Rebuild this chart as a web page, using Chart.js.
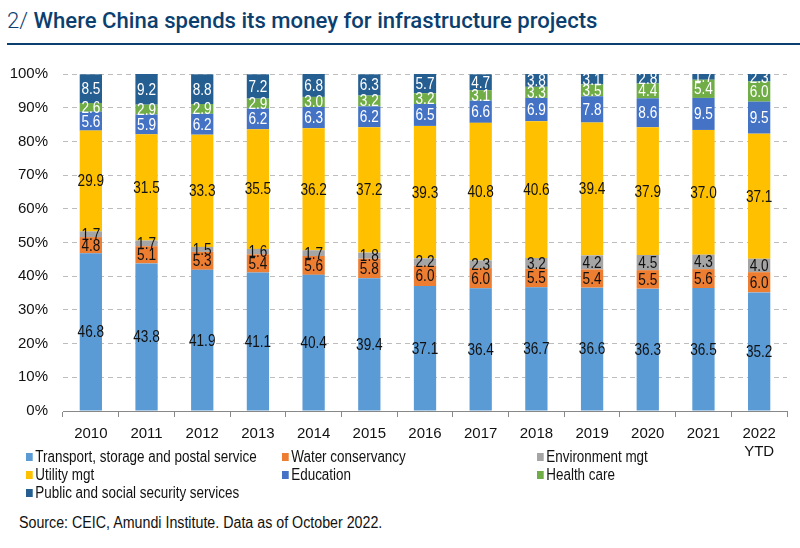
<!DOCTYPE html>
<html>
<head>
<meta charset="utf-8">
<script src="https://cdn.jsdelivr.net/npm/chart.js@4"></script>
<style>
  body { margin: 0; background: #fff; }
  #page { position: relative; width: 800px; height: 548px; overflow: hidden;
          font-family: "Liberation Sans", Arial, sans-serif; color: #111; }
  #title { position: absolute; left: 7px; top: 8px; font-family: Roboto, "Liberation Sans", sans-serif;
           font-size: 22px; font-weight: 500; color: #0b3f70; white-space: nowrap; transform-origin: 0 0; }
  #title span { font-weight: 300; }
  #rule { position: absolute; left: 7px; top: 43px; width: 793px; height: 2px; background: #0b3f70; }
  #wrap { position: absolute; left: 0; top: 50px; }
  .leg { position: absolute; font-size: 16px; line-height: 18px; white-space: nowrap;
         transform: scaleX(0.84); transform-origin: 0 50%; }
  .leg i { display: inline-block; width: 8px; height: 8px; margin-right: 3px; vertical-align: 1px; }
  #source { position: absolute; left: 19px; top: 514px; font-size: 16px; white-space: nowrap;
            transform: scaleX(0.89); transform-origin: 0 50%; }
</style>
</head>
<body>
<div id="page">
  <div id="title"><span>2/</span> Where China spends its money for infrastructure projects</div>
  <div id="rule"></div>
  <div id="wrap"><canvas id="myChart" width="800" height="410"></canvas></div>
  <div id="legend"></div>
  <div id="source">Source: CEIC, Amundi Institute. Data as of October 2022.</div>
</div>
<script>
"use strict";

/* Data */
const years = ['2010', '2011', '2012', '2013', '2014', '2015', '2016', '2017', '2018', '2019', '2020', '2021', ['2022', 'YTD']];
const yTicks = [0, 10, 20, 30, 40, 50, 60, 70, 80, 90, 100];
const transport = [46.8, 43.8, 41.9, 41.1, 40.4, 39.4, 37.1, 36.4, 36.7, 36.6, 36.3, 36.5, 35.2];
const water = [4.8, 5.1, 5.3, 5.4, 5.6, 5.8, 6.0, 6.0, 5.5, 5.4, 5.5, 5.6, 6.0];
const environment = [1.7, 1.7, 1.5, 1.6, 1.7, 1.8, 2.2, 2.3, 3.2, 4.2, 4.5, 4.3, 4.0];
const utility = [29.9, 31.5, 33.3, 35.5, 36.2, 37.2, 39.3, 40.8, 40.6, 39.4, 37.9, 37.0, 37.1];
const education = [5.6, 5.9, 6.2, 6.2, 6.3, 6.2, 6.5, 6.6, 6.9, 7.8, 8.6, 9.5, 9.5];
const healthCare = [2.6, 2.9, 2.9, 2.9, 3.0, 3.2, 3.2, 3.1, 3.3, 3.5, 4.4, 5.4, 6.0];
const publicServices = [8.5, 9.2, 8.8, 7.2, 6.8, 6.3, 5.7, 4.7, 3.8, 3.1, 2.8, 1.7, 2.3];

const FONT = '"Liberation Sans", Arial, sans-serif';

// series: name, values, bar colour, label colour
const series = [
    ['Transport, storage and postal service', transport, '#5b9bd5', '#111'],
    ['Water conservancy', water, '#ed7d31', '#111'],
    ['Environment mgt', environment, '#a5a5a5', '#111'],
    ['Utility mgt', utility, '#ffc000', '#111'],
    ['Education', education, '#4472c4', '#fff'],
    ['Health care', healthCare, '#70ad47', '#fff'],
    ['Public and social security services', publicServices, '#255e91', '#fff']
];

/* Title: squeeze to the reference width */
const title = document.getElementById('title');
title.style.transform = 'scaleX(' + (590 / title.offsetWidth) + ')';

/* Legend (3 columns) */
const legendCols = [26, 282, 537];
const legendRows = [448, 466, 484];
const legendBox = document.getElementById('legend');
series.forEach(function (s, i) {
    const d = document.createElement('div');
    d.className = 'leg';
    d.style.left = legendCols[i % 3] + 'px';
    d.style.top = legendRows[Math.floor(i / 3)] + 'px';
    d.innerHTML = '<i style="background:' + s[2] + '"></i>' + s[0];
    legendBox.appendChild(d);
});

/* Value labels in the middle of each segment */
const segmentLabels = {
    id: 'segmentLabels',
    afterDatasetsDraw: function (chart) {
        const ctx = chart.ctx;
        chart.data.datasets.forEach(function (ds, i) {
            chart.getDatasetMeta(i).data.forEach(function (bar, j) {
                ctx.save();
                ctx.font = '16px ' + FONT;
                ctx.textAlign = 'center';
                ctx.textBaseline = 'middle';
                ctx.fillStyle = series[i][3];
                ctx.translate(bar.x, (bar.y + bar.base) / 2 + 1);
                ctx.scale(0.85, 1);
                ctx.fillText(ds.data[j].toFixed(1), 0, 0);
                ctx.restore();
            });
        });
    }
};

const config = {
    type: 'bar',
    data: {
        labels: years,
        datasets: series.map(function (s) {
            return { label: s[0], data: s[1], backgroundColor: s[2], borderWidth: 0 };
        })
    },
    options: {
        responsive: false,
        animation: false,
        barPercentage: 0.4,
        categoryPercentage: 1,
        layout: { padding: { left: 0, right: 13, top: 5, bottom: 0 } },
        plugins: { legend: { display: false }, tooltip: { enabled: false } },
        scales: {
            x: {
                stacked: true,
                afterFit: function (scale) { scale.height = 49; },
                grid: { drawOnChartArea: false, drawTicks: true, tickLength: 6, offset: true, color: '#888' },
                border: { display: true, color: '#888' },
                ticks: { color: '#111', padding: 8, font: { family: FONT, size: 15 }, maxRotation: 0 }
            },
            y: {
                stacked: true,
                min: 0,
                max: 100,
                afterFit: function (scale) { scale.width = 63; },
                afterBuildTicks: function (scale) {
                    scale.ticks = yTicks.map(function (v) { return { value: v }; });
                },
                grid: { color: '#bdbdbd', drawTicks: false },
                border: { display: false, dash: [5, 4] },
                ticks: {
                    color: '#111', padding: 15, font: { family: FONT, size: 15 },
                    callback: function (v) { return v + '%'; }
                }
            }
        }
    },
    plugins: [segmentLabels]
};

const myChart = new Chart(document.getElementById('myChart'), config);
</script>
</body>
</html>
